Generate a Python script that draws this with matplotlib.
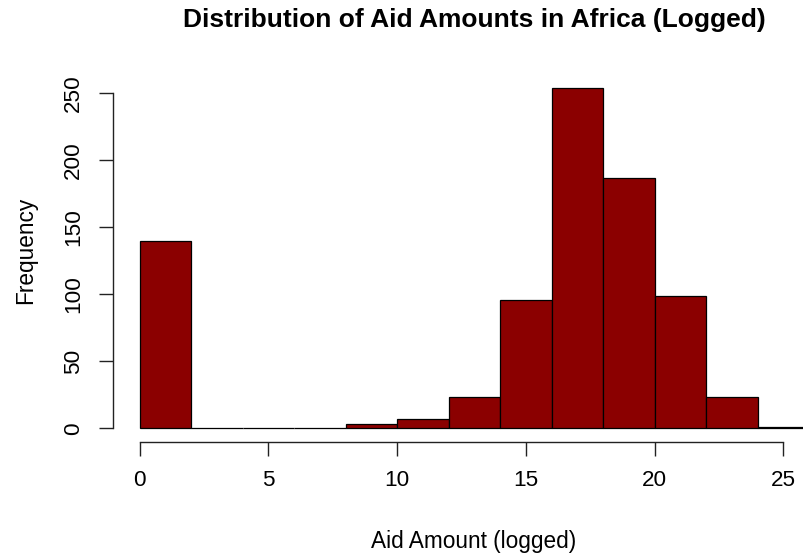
import numpy as np
import matplotlib.pyplot as plt

plt.rcParams['font.family'] = ['Liberation Sans', 'DejaVu Sans']

# histogram bins (width 2) and counts per bin
bin_edges = [0, 2, 4, 6, 8, 10, 12, 14, 16, 18, 20, 22, 24, 26]
counts = [140, 0, 0, 0, 3, 7, 23, 96, 254, 187, 99, 23, 1]
x_ticks = [0, 5, 10, 15, 20, 25]
y_ticks = [0, 50, 100, 150, 200, 250]

fig = plt.figure(figsize=(8.04, 5.59), dpi=100)
ax = fig.add_axes([0.1402, 0.2095, 0.8996, 0.6576])

lefts = np.array(bin_edges[:-1])
widths = np.diff(bin_edges)
ax.bar(lefts, counts, width=widths, align='edge', color='#8B0000',
       edgecolor='black', linewidth=0.9)

# R-style 4% padding around the data range
ax.set_xlim(-1.04, 27.04)
ax.set_ylim(-10.16, 264.16)

for s in ['top', 'right']:
    ax.spines[s].set_visible(False)
ax.spines['left'].set_bounds(0, 250)
ax.spines['bottom'].set_bounds(0, 25)
for s in ['left', 'bottom']:
    ax.spines[s].set_linewidth(1.0)
    ax.spines[s].set_color('#222222')

ax.set_xticks(x_ticks)
ax.set_yticks(y_ticks)
ax.tick_params(axis='both', length=10, width=1.0, color='#222222',
               labelsize=16.2, pad=10.5)
ax.set_yticklabels([str(v) for v in y_ticks], rotation=90, va='center')

fig.text(0.5896, 0.0197, 'Aid Amount (logged)', ha='center', va='baseline',
         fontsize=16.3)
fig.text(0.0394, 0.5528, 'Frequency', ha='center', va='baseline',
         rotation=90, rotation_mode='anchor', fontsize=16.3)
fig.text(0.5896, 0.9512, 'Distribution of Aid Amounts in Africa (Logged)',
         ha='center', va='baseline', fontsize=19, fontweight='bold')

fig.savefig('out.png', dpi=100)
